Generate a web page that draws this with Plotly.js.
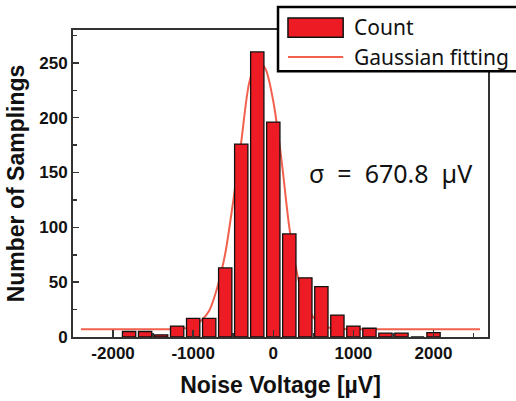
<!DOCTYPE html>
<html>
<head>
<meta charset="utf-8">
<script src="https://cdn.plot.ly/plotly-3.0.1.min.js"></script>
<style>html,body{margin:0;padding:0;background:#fff;}#chart{width:516px;height:401px;}</style>
</head>
<body>
<div id="chart"></div>
<script>
// Histogram bins (bin centers, µV) and counts
const binCenters = [-1800, -1600, -1400, -1200, -1000, -800, -600, -400, -200, 0, 200, 400, 600, 800, 1000, 1200, 1400, 1600, 1800, 2000];
const counts     = [5, 5, 2, 10, 17, 17, 63, 176, 260, 196, 94, 54, 46, 20, 10, 8, 3.5, 3.5, 0, 4];

// Gaussian fitting curve
const fitX = [-2400, -1500, -1200, -1000, -900, -800, -700, -600, -500, -400, -300, -200, -100, 0, 100, 200, 300, 400, 500, 600, 700, 800, 1000, 1500, 2580];
const fitY = [7, 7, 7.3, 9.5, 15, 24, 45, 76, 124, 178, 232, 252, 245, 215, 163, 100, 57, 30, 18, 11, 8.5, 7.5, 7.1, 7, 7];

// Tick labels
const xTickVals = [-2000, -1000, 0, 1000, 2000];
const xTickText = ['-2000', '-1000', '0', '1000', '2000'];
const yTickVals = [0, 50, 100, 150, 200, 250];
const yTickText = ['0', '50', '100', '150', '200', '250'];

const xTitle = 'Noise Voltage [\u00B5V]';
const yTitle = 'Number of Samplings';
const sigmaLabel = '\u03C3\u00A0\u00A0=\u00A0\u00A0670.8\u00A0\u00A0\u00B5V';
const legendNames = ['Count', 'Gaussian fitting'];

const barRed = '#ED1C24';
const fitRed = '#F2604E';
const xRange = [-2500, 2680];
const yRange = [0, 280];

const traces = [
  {
    type: 'scatter', mode: 'lines', name: legendNames[1],
    x: fitX, y: fitY, xaxis: 'x', yaxis: 'y',
    line: {color: fitRed, width: 2, shape: 'spline', smoothing: 0.8},
    showlegend: false, hoverinfo: 'skip'
  },
  {
    type: 'bar', name: legendNames[0],
    x: binCenters, y: counts, xaxis: 'x2', yaxis: 'y2',
    marker: {color: barRed, line: {color: '#111', width: 1.3}},
    showlegend: false
  }
];

const tickFont = {family: 'Arial, Liberation Sans, sans-serif', size: 17, color: '#111', weight: 'bold'};
const titleFont = {family: 'Arial, Liberation Sans, sans-serif', size: 23, color: '#111', weight: 'bold'};
const textFont = {family: 'Noto Sans, Arial, sans-serif', size: 21, color: '#111'};

const layout = {
  width: 516, height: 401,
  margin: {l: 73, r: 28, t: 30, b: 64, pad: 0},
  paper_bgcolor: '#fff', plot_bgcolor: '#fff',
  bargap: 0.17,
  showlegend: false,
  xaxis: {
    range: xRange, tickmode: 'array', tickvals: xTickVals, ticktext: xTickText,
    ticks: 'inside', ticklen: 7, tickwidth: 1.5, tickcolor: '#333',
    minor: {tickmode: 'linear', tick0: 0, dtick: 500, ticks: 'inside', ticklen: 4, tickwidth: 1.5, tickcolor: '#333'},
    showline: true, linecolor: '#333', linewidth: 2, mirror: true,
    showgrid: false, zeroline: false,
    tickfont: tickFont,
    title: {text: xTitle, font: titleFont, standoff: 14}
  },
  yaxis: {
    range: yRange, tickmode: 'array', tickvals: yTickVals, ticktext: yTickText,
    ticks: 'inside', ticklen: 6, tickwidth: 1.5, tickcolor: '#333',
    minor: {tickmode: 'linear', tick0: 0, dtick: 25, ticks: 'inside', ticklen: 4, tickwidth: 1.5, tickcolor: '#333'},
    showline: true, linecolor: '#333', linewidth: 2, mirror: true,
    showgrid: false, zeroline: false,
    tickfont: tickFont,
    title: {text: yTitle, font: titleFont, standoff: 8}
  },
  xaxis2: {overlaying: 'x', range: xRange, visible: false},
  yaxis2: {overlaying: 'y', range: yRange, visible: false},
  shapes: [
    {type: 'rect', xref: 'paper', yref: 'paper', x0: 0.494, x1: 1.10, y0: 0.866, y1: 1.075,
     fillcolor: '#fff', line: {color: '#000', width: 2.5}, layer: 'above'},
    {type: 'rect', xref: 'paper', yref: 'paper', x0: 0.518, x1: 0.651, y0: 0.976, y1: 1.039,
     fillcolor: barRed, line: {color: '#111', width: 1.5}, layer: 'above'},
    {type: 'line', xref: 'paper', yref: 'paper', x0: 0.518, x1: 0.651, y0: 0.912, y1: 0.912,
     line: {color: fitRed, width: 2}, layer: 'above'}
  ],
  annotations: [
    {xref: 'paper', yref: 'paper', x: 0.672, y: 1.0098, xanchor: 'left', yanchor: 'middle',
     text: legendNames[0], showarrow: false, font: textFont},
    {xref: 'paper', yref: 'paper', x: 0.672, y: 0.912, xanchor: 'left', yanchor: 'middle',
     text: legendNames[1], showarrow: false, font: textFont},
    {xref: 'x', yref: 'y', x: 1457, y: 150, xanchor: 'center', yanchor: 'middle',
     text: sigmaLabel, showarrow: false, font: {family: 'Noto Sans, Arial, sans-serif', size: 25, color: '#111'}}
  ]
};

Plotly.newPlot('chart', traces, layout, {displayModeBar: false, staticPlot: true});
</script>
</body>
</html>
